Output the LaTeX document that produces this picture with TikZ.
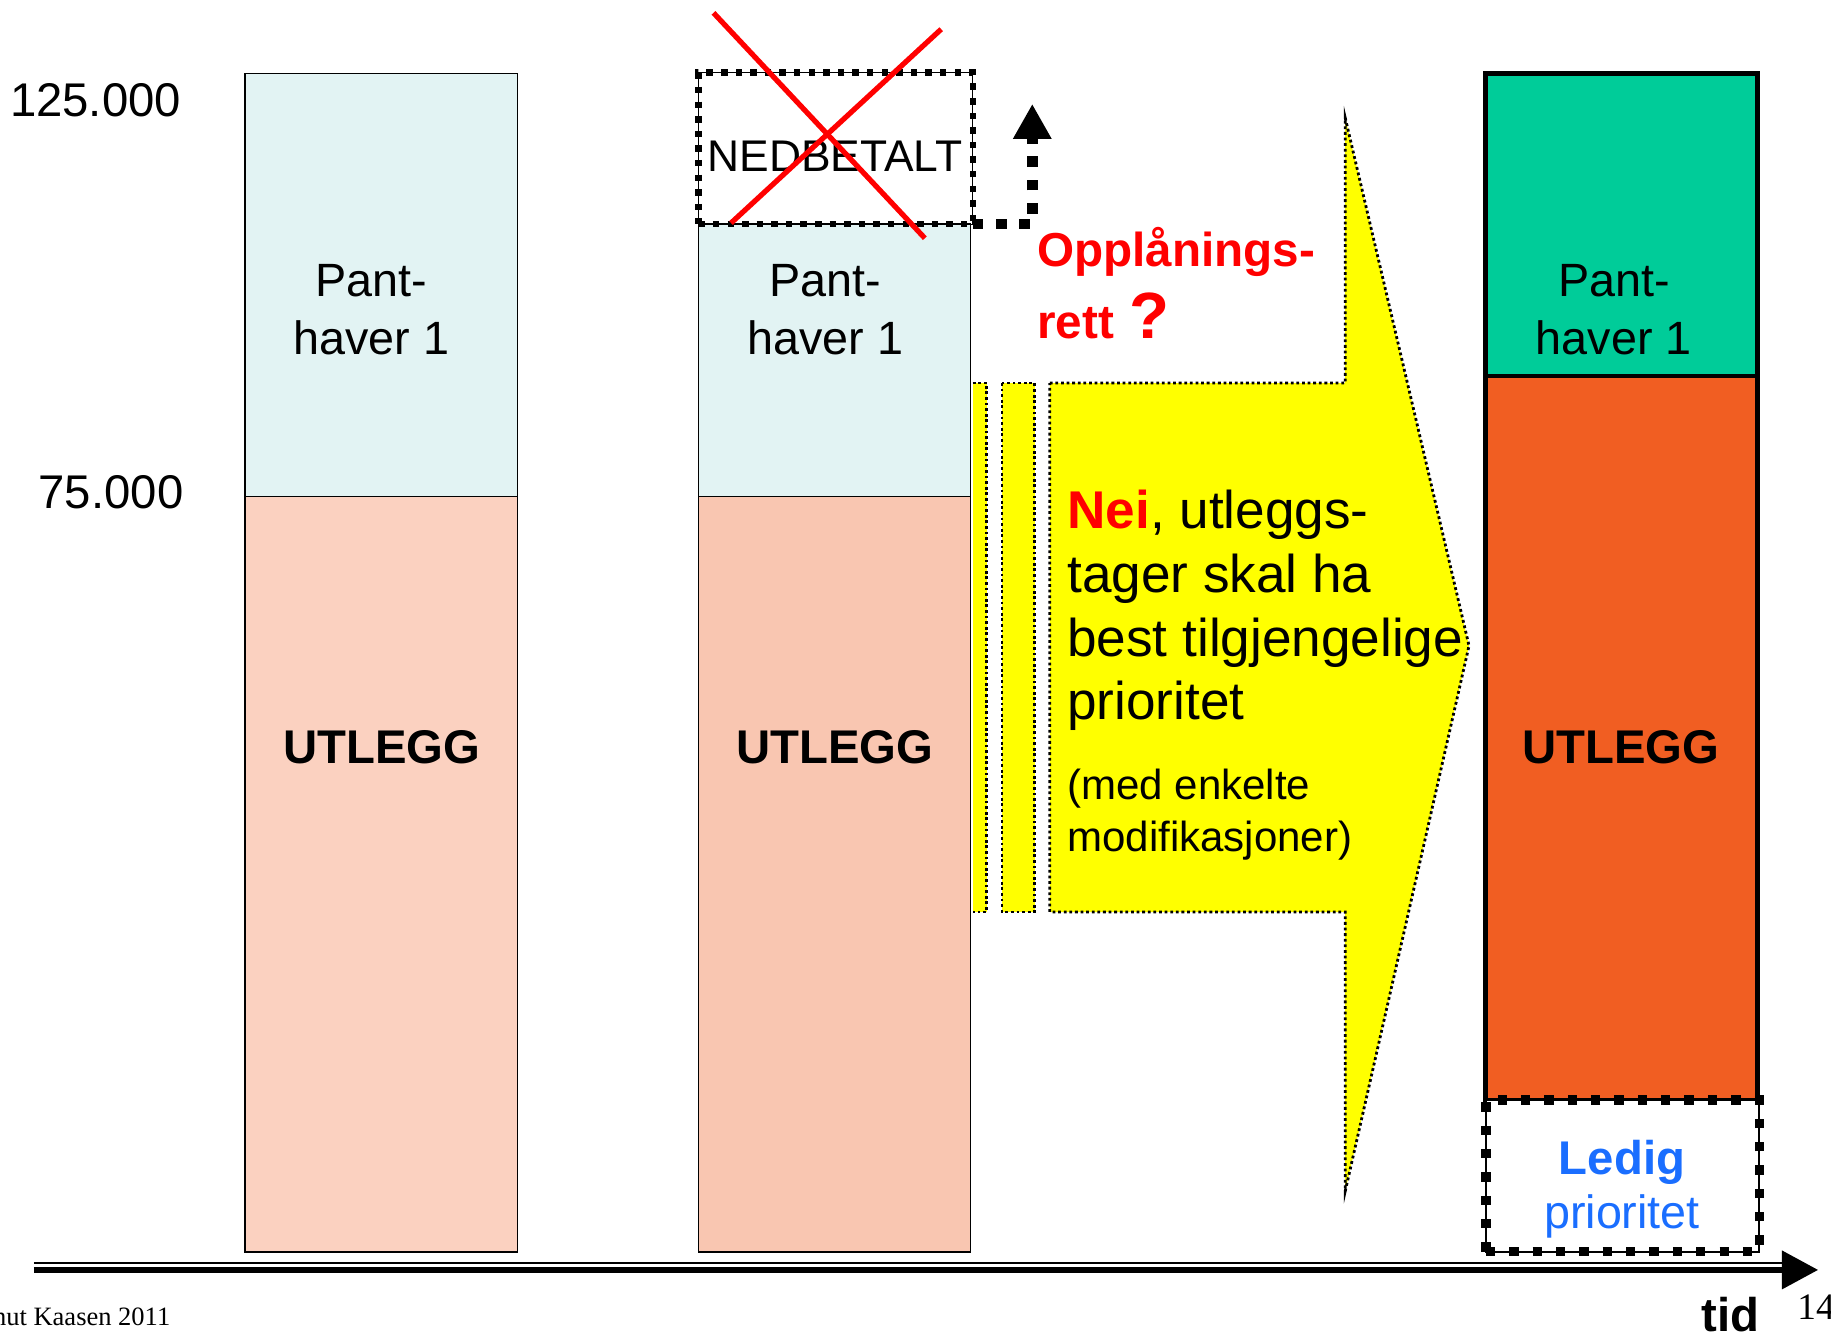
\documentclass[tikz,border=0pt]{standalone}
\usepackage{fontspec}
\setmainfont{Liberation Sans}
\newfontfamily\serifft{Liberation Serif}
\usetikzlibrary{arrows.meta}
\definecolor{lblue}{HTML}{E2F3F3}
\definecolor{salmonA}{HTML}{FBD1C0}
\definecolor{salmonB}{HTML}{F9C6B1}
\definecolor{pgreen}{HTML}{00CC99}
\definecolor{porange}{HTML}{F15E22}
\definecolor{pblue}{HTML}{1A6EFF}
\definecolor{pyellow}{HTML}{FFFF00}
\definecolor{pred}{HTML}{FF0000}
\begin{document}
\begin{tikzpicture}[x=1pt,y=-1pt,
  barbox/.style={draw=black, line width=1.3pt, inner sep=0pt, outer sep=0pt, minimum width=233pt},
  thickbox/.style={draw=black, line width=4pt, inner sep=0pt, outer sep=0pt, minimum width=233pt},
  sqdashA/.style={draw=black, line width=1.2pt, postaction={draw=black, line width=5.5pt, dash pattern=on 5.5pt off 7pt}},
  sqdashB/.style={draw=black, line width=1.5pt, postaction={draw=black, line width=8pt, dash pattern=on 8pt off 12pt}},
  ydot/.style={draw=black, line width=2.4pt, dash pattern=on 2.4pt off 2.4pt},
  txt/.style={inner sep=0pt, outer sep=0pt, font=\fontsize{40}{47}\selectfont},
  btxt/.style={inner sep=0pt, outer sep=0pt, font=\fontsize{40.5}{47}\selectfont\bfseries},
  ytxt/.style={inner sep=0pt, outer sep=0pt, anchor=base west, font=\fontsize{45.5}{54}\selectfont},
  stxt/.style={inner sep=0pt, outer sep=0pt, anchor=base west, font=\fontsize{36}{44}\selectfont},
  crossline/.style={draw=pred, line width=4.5pt}
]
\useasboundingbox (0,0) rectangle (1568,1142);

% ---------- left bar ----------
\node[barbox, fill=lblue, minimum height=362pt] (b1top) at (326.5,244) {};
\node[barbox, fill=salmonA, minimum height=647pt] (b1bot) at (326.5,748.5) {};
\node[txt, anchor=base] (b1p1) at (318,254) {Pant-};
\node[txt, anchor=base] (b1p2) at (318,304) {haver 1};
\node[btxt, anchor=base] (b1u) at (327,654) {UTLEGG};

% ---------- scale labels ----------
\node[txt, anchor=base east, font=\fontsize{40.5}{47}\selectfont] (l125) at (155,99.5) {125.000};
\node[txt, anchor=base east, font=\fontsize{40.5}{47}\selectfont] (l75) at (157,435.5) {75.000};

% ---------- yellow arrow ----------
\path[fill=pyellow] (833,328) rectangle (845,781);
\draw[ydot] (833,328) -- (845,328) -- (845,781) -- (833,781);
\path[fill=pyellow] (858,328) rectangle (886,781);
\draw[ydot] (858,328) rectangle (886,781);
\path[fill=pyellow] (899,328) -- (1152,328) -- (1152,101) -- (1258,553) -- (1152,1020) -- (1152,781) -- (899,781) -- cycle;
\draw[ydot] (899,328) -- (1152,328) -- (1152,101) -- (1258,553) -- (1152,1020) -- (1152,781) -- (899,781) -- cycle;

\node[ytxt] (y1) at (914,453) {\textcolor{pred}{\bfseries Nei}, utleggs-};
\node[ytxt] (y2) at (914,507) {tager skal ha};
\node[ytxt] (y3) at (914,562) {best tilgjengelige};
\node[ytxt] (y4) at (914,616) {prioritet};
\node[stxt] (y5) at (914,685) {(med enkelte};
\node[stxt] (y6) at (914,729) {modifikasjoner)};

% ---------- middle bar ----------
\node[barbox, fill=lblue, minimum height=233pt] (b2top) at (714.5,308.5) {};
\node[barbox, fill=salmonB, minimum height=647pt] (b2bot) at (714.5,748.5) {};
\node[txt, anchor=base] (b2p1) at (707,254) {Pant-};
\node[txt, anchor=base] (b2p2) at (707,304) {haver 1};
\node[btxt, anchor=base] (b2u) at (715,654) {UTLEGG};

\node[sqdashA, inner sep=0pt, outer sep=0pt, minimum width=235pt, minimum height=130pt] (ned) at (715.5,127) {};
\node[inner sep=0pt, font=\fontsize{38}{45}\selectfont, anchor=base] (nedt) at (715,147) {NEDBETALT};

% dotted arrow up
\coordinate (uptip) at (884,89);
\draw[black, line width=9pt, dash pattern=on 9pt off 11pt, -{Triangle[length=30pt,width=31pt]}] (ned.south east) -| (uptip);

% red cross
\coordinate (x1a) at (611,11);
\coordinate (x1b) at (792,204);
\coordinate (x2a) at (806,25);
\coordinate (x2b) at (626,191);
\draw[crossline] (x1a) -- (x1b);
\draw[crossline] (x2a) -- (x2b);

% Opplanings-rett ?
\node[inner sep=0pt, anchor=base west, font=\fontsize{40.8}{47}\selectfont\bfseries, text=pred] (opp1) at (888,228) {Opplånings-};
\node[inner sep=0pt, anchor=base west, font=\fontsize{40.8}{47}\selectfont\bfseries, text=pred] (opp2) at (888,290) {rett};
\node[inner sep=0pt, anchor=base west, font=\fontsize{56}{60}\selectfont\bfseries, text=pred] (opq) at (967,290) {?};

% ---------- right bar ----------
\node[thickbox, fill=pgreen, minimum height=259pt] (b3top) at (1388.5,192.5) {};
\node[thickbox, fill=porange, minimum height=620pt] (b3mid) at (1388.5,632) {};
\node[sqdashB, fill=white, inner sep=0pt, outer sep=0pt, minimum width=234pt, minimum height=130pt] (ledig) at (1389.5,1007) {};
\node[txt, anchor=base] (b3p1) at (1382,254) {Pant-};
\node[txt, anchor=base] (b3p2) at (1382,304) {haver 1};
\node[btxt, anchor=base] (b3u) at (1388,654) {UTLEGG};
\node[btxt, anchor=base, text=pblue] (led1) at (1389,1006) {Ledig};
\node[txt, anchor=base, text=pblue] (led2) at (1389,1052) {prioritet};

% ---------- time axis ----------
\coordinate (ax0) at (29,1081.5);
\coordinate (ax1) at (1527,1081.5);
\coordinate (ax2) at (29,1087.5);
\coordinate (ax3) at (1557,1087.5);
\draw[black, line width=1.7pt] (ax0) -- (ax1);
\draw[black, line width=5pt, -{Triangle[length=31pt,width=32pt]}] (ax2) -- (ax3);

\node[btxt, anchor=base] (tid) at (1482,1140) {tid};
\node[inner sep=0pt, anchor=base west, font=\serifft\fontsize{32}{36}\selectfont] (pg) at (1539,1130) {14};
\node[inner sep=0pt, anchor=base east, font=\serifft\fontsize{22.7}{26}\selectfont] (copy) at (146,1135) {Knut Kaasen 2011};
\end{tikzpicture}
\end{document}
